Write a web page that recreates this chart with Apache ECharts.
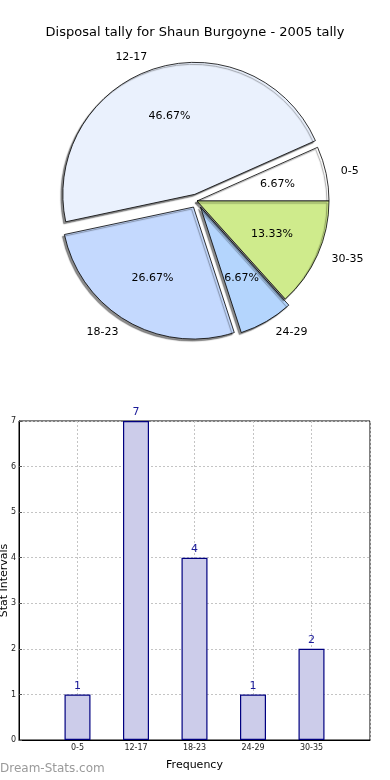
<!DOCTYPE html>
<html>
<head>
<meta charset="utf-8">
<script src="https://cdn.jsdelivr.net/npm/echarts@6/dist/echarts.min.js"></script>
<style>
html,body{margin:0;padding:0;background:#fff;}
#c{width:390px;height:780px;}
</style>
</head>
<body>
<div id="c"></div>
<script>
const titleText = 'Disposal tally for Shaun Burgoyne - 2005 tally';
const pieLabels = ['0-5', '12-17', '18-23', '24-29', '30-35'];
const pieValues = [1, 7, 4, 1, 2];
const pieColors = ['#ffffff', '#eaf1fd', '#c4d9fe', '#b4d5fd', '#cfeb8c'];
const pieExploded = [false, true, true, true, false];

const barCategories = ['0-5', '12-17', '18-23', '24-29', '30-35'];
const barValues = [1, 7, 4, 1, 2];
const yTicks = [0, 1, 2, 3, 4, 5, 6, 7];

const FONT = 'DejaVu Sans';
const total = pieValues.reduce((a, b) => a + b, 0);
const R = 132;
const center = [197, 201];

const pieMain = pieLabels.map((n, i) => ({
  name: n, value: pieValues[i], selected: pieExploded[i],
  itemStyle: { color: pieColors[i] }
}));
const piePct = pieLabels.map((n, i) => ({
  name: n, value: pieValues[i], selected: pieExploded[i]
}));

const chart = echarts.init(document.getElementById('c'), null, { renderer: 'canvas' });
chart.setOption({
  animation: false,
  backgroundColor: '#ffffff',
  textStyle: { fontFamily: FONT },
  title: {
    text: titleText, left: 'center', top: 21,
    textStyle: { fontFamily: FONT, fontSize: 13, fontWeight: 'normal', color: '#000' }
  },
  graphic: [{
    type: 'text', left: 0, top: 763,
    style: { text: 'Dream-Stats.com', fill: '#9a9a9a', font: '12px "DejaVu Sans"' }
  }],
  grid: {
    left: 19, right: 20, top: 421, bottom: 40,
    containLabel: false, outerBoundsMode: 'none',
    show: true, borderColor: '#000', borderWidth: 1, backgroundColor: 'transparent'
  },
  xAxis: {
    type: 'value', min: -1, max: 5, interval: 1,
    name: 'Frequency', nameLocation: 'middle', nameGap: 20, nameMoveOverlap: false,
    nameTextStyle: { fontFamily: FONT, fontSize: 11, color: '#000' },
    axisLine: { show: true, onZero: false, lineStyle: { color: '#000' } },
    axisTick: { show: false },
    axisLabel: {
      fontFamily: FONT, fontSize: 8, color: '#222', margin: 4,
      formatter: v => (barCategories[v] !== undefined ? barCategories[v] : '')
    },
    splitLine: { show: true, lineStyle: { color: '#c4c4c4', type: [2, 2], width: 1 } }
  },
  yAxis: {
    type: 'value', min: yTicks[0], max: yTicks[yTicks.length - 1], interval: 1,
    name: 'Stat Intervals', nameLocation: 'middle', nameGap: 9, nameRotate: 90, nameMoveOverlap: false,
    nameTextStyle: { fontFamily: FONT, fontSize: 11, color: '#000' },
    axisLine: { show: true, onZero: false, lineStyle: { color: '#000' } },
    axisTick: { show: true, inside: true, length: 3, lineStyle: { color: '#555' } },
    axisLabel: { fontFamily: FONT, fontSize: 8, color: '#222', margin: 3 },
    splitLine: { show: true, lineStyle: { color: '#c4c4c4', type: [2, 2], width: 1 } }
  },
  series: [
    {
      type: 'pie', center: center, radius: [0, R],
      startAngle: 0, clockwise: false,
      selectedMode: 'multiple', selectedOffset: 7,
      avoidLabelOverlap: false,
      itemStyle: {
        borderColor: '#000', borderWidth: 0.8,
        shadowColor: 'rgba(0,0,0,0.45)', shadowBlur: 1, shadowOffsetX: -2, shadowOffsetY: 2
      },
      emphasis: { disabled: true },
      label: {
        show: true, position: 'outside', formatter: '{b}',
        fontFamily: FONT, fontSize: 11, color: '#000', distanceToLabelLine: 3
      },
      labelLine: { show: false, length: 12, length2: 0 },
      data: pieMain
    },
    {
      type: 'pie', center: center, radius: [0, R * 1.2],
      startAngle: 0, clockwise: false, silent: true,
      selectedMode: 'multiple', selectedOffset: 7,
      avoidLabelOverlap: false,
      itemStyle: { color: 'rgba(0,0,0,0)', borderWidth: 0 },
      emphasis: { disabled: true },
      label: {
        show: true, position: 'inside',
        formatter: p => (p.value / total * 100).toFixed(2) + '%',
        fontFamily: FONT, fontSize: 11, color: '#000'
      },
      labelLine: { show: false },
      data: piePct,
      z: 5
    },
    {
      type: 'bar',
      data: barValues.map((v, i) => [i, v]),
      barWidth: 26,
      itemStyle: { color: '#ccccea', borderColor: '#000080', borderWidth: 1.2 },
      label: { show: true, position: 'top', distance: 3, color: '#1a1a99', fontFamily: FONT, fontSize: 11 },
      emphasis: { disabled: true }
    }
  ]
});
</script>
</body>
</html>
